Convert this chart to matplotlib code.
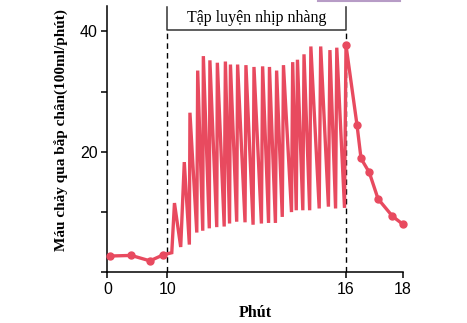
import numpy as np
import matplotlib
matplotlib.use("Agg")
import matplotlib.pyplot as plt
from matplotlib.lines import Line2D

# broken time axis: 0-10 min is squeezed, 10-18 min is wide
X_KNOTS = [0, 10, 16, 18]
X_PIX = [0, 60, 238.7, 295.4]

# rest before exercise (markers)
rest_t = [0.4, 4.0, 7.1, 9.33]
rest_flow = [2.7, 2.8, 1.9, 2.9]

# exercise: each contraction gives a trough followed by a peak
trough_t = [10.15, 10.45, 10.74, 10.99, 11.19, 11.41, 11.66, 11.91, 12.09, 12.33,
            12.61, 12.88, 13.16, 13.40, 13.63, 13.86, 14.17, 14.33, 14.55, 14.78,
            15.10, 15.41, 15.65, 15.95]
trough_flow = [3.25, 4.2, 4.6, 6.6, 6.9, 7.3, 7.5, 7.6, 8.1, 8.4,
               8.3, 7.9, 8.1, 8.2, 8.2, 9.2, 10.0, 10.3, 10.3, 10.3,
               10.6, 10.9, 10.6, 10.7]
peak_t = [10.24, 10.57, 10.76, 11.02, 11.21, 11.43, 11.68, 11.95, 12.12, 12.36,
          12.64, 12.91, 13.20, 13.43, 13.67, 13.90, 14.21, 14.37, 14.59, 14.82,
          15.15, 15.46, 15.69, 16.0]
peak_flow = [11.5, 18.3, 26.5, 33.5, 35.9, 35.2, 34.8, 35.0, 34.5, 34.5,
             34.4, 34.1, 34.2, 34.1, 33.5, 34.4, 34.9, 35.3, 36.2, 37.5,
             37.5, 36.9, 37.3, 37.7]

# recovery after exercise (markers)
recov_t = [16.0, 16.39, 16.53, 16.82, 17.13, 17.64, 18.05]
recov_flow = [37.7, 24.4, 18.9, 16.6, 12.2, 9.3, 8.0]

x_ticks = [0, 10, 16, 18]
y_ticks = [0, 10, 20, 30, 40]
y_ticklabels = ["", "", "20", "", "40"]

RED = "#e84a5f"
SERIF = ["Liberation Serif", "DejaVu Serif"]


def fwd(x):
    return np.interp(x, X_KNOTS, X_PIX, left=None, right=None)


def inv(u):
    return np.interp(u, X_PIX, X_KNOTS)


ex_t = [v for pair in zip(trough_t, peak_t) for v in pair]
ex_flow = [v for pair in zip(trough_flow, peak_flow) for v in pair]
all_t = rest_t + ex_t + recov_t[1:]
all_flow = rest_flow + ex_flow + recov_flow[1:]

plt.rcParams["font.family"] = ["Liberation Sans", "DejaVu Sans"]
fig = plt.figure(figsize=(4.67, 3.23), dpi=100)
ax = fig.add_axes([0.2298, 0.157, 0.8623 - 0.2298, 0.981 - 0.157])
ax.set_xscale("function", functions=(fwd, inv))

ax.plot(all_t, all_flow, color=RED, linewidth=2.4, solid_joinstyle="miter", zorder=3,
        clip_on=False)
ax.plot(rest_t, rest_flow, "o", color=RED, markersize=5, zorder=4, clip_on=False)
ax.plot(recov_t, recov_flow, "o", color=RED, markersize=5, zorder=4, clip_on=False)

# exercise period marks
for xv in (10, 16):
    ax.plot([xv, xv], [0, 40.2], color="black", linewidth=1.0, linestyle=(0, (4, 3)), zorder=2)
ax.plot([10, 10, 16, 16], [44.0, 40.2, 40.2, 44.0], color="0.2", linewidth=1.1, zorder=2)
ax.text(13, 42.2, "Tập luyện nhịp nhàng", ha="center", va="center",
        fontsize=11.5, family=SERIF)

ax.set_xlim(0, 18)
ax.set_ylim(0, 44.2)
ax.set_xticks(x_ticks)
ax.set_xticklabels([str(t) for t in x_ticks])
ax.set_yticks(y_ticks)
ax.set_yticklabels(y_ticklabels)
ax.tick_params(direction="out", length=4, width=1.1, labelsize=11.5, pad=3)
for side in ("top", "right"):
    ax.spines[side].set_visible(False)
for side in ("left", "bottom"):
    ax.spines[side].set_linewidth(1.1)
ax.spines["bottom"].set_bounds(-0.8, 18)

ax.set_xlabel("Phút", fontsize=11.5, fontweight="bold", family=SERIF, labelpad=6)
ax.set_ylabel("Máu chảy qua bắp chân(100ml/phút)", fontsize=11, fontweight="bold",
              family=SERIF)
ax.yaxis.set_label_coords(-0.133, 0.535)

# stray purple bar cut off at the top edge
fig.add_artist(Line2D([318 / 467, 400 / 467], [0.998, 0.998], color="#b79cc6",
                      linewidth=1.5, transform=fig.transFigure))

fig.savefig("out.png", dpi=100)
